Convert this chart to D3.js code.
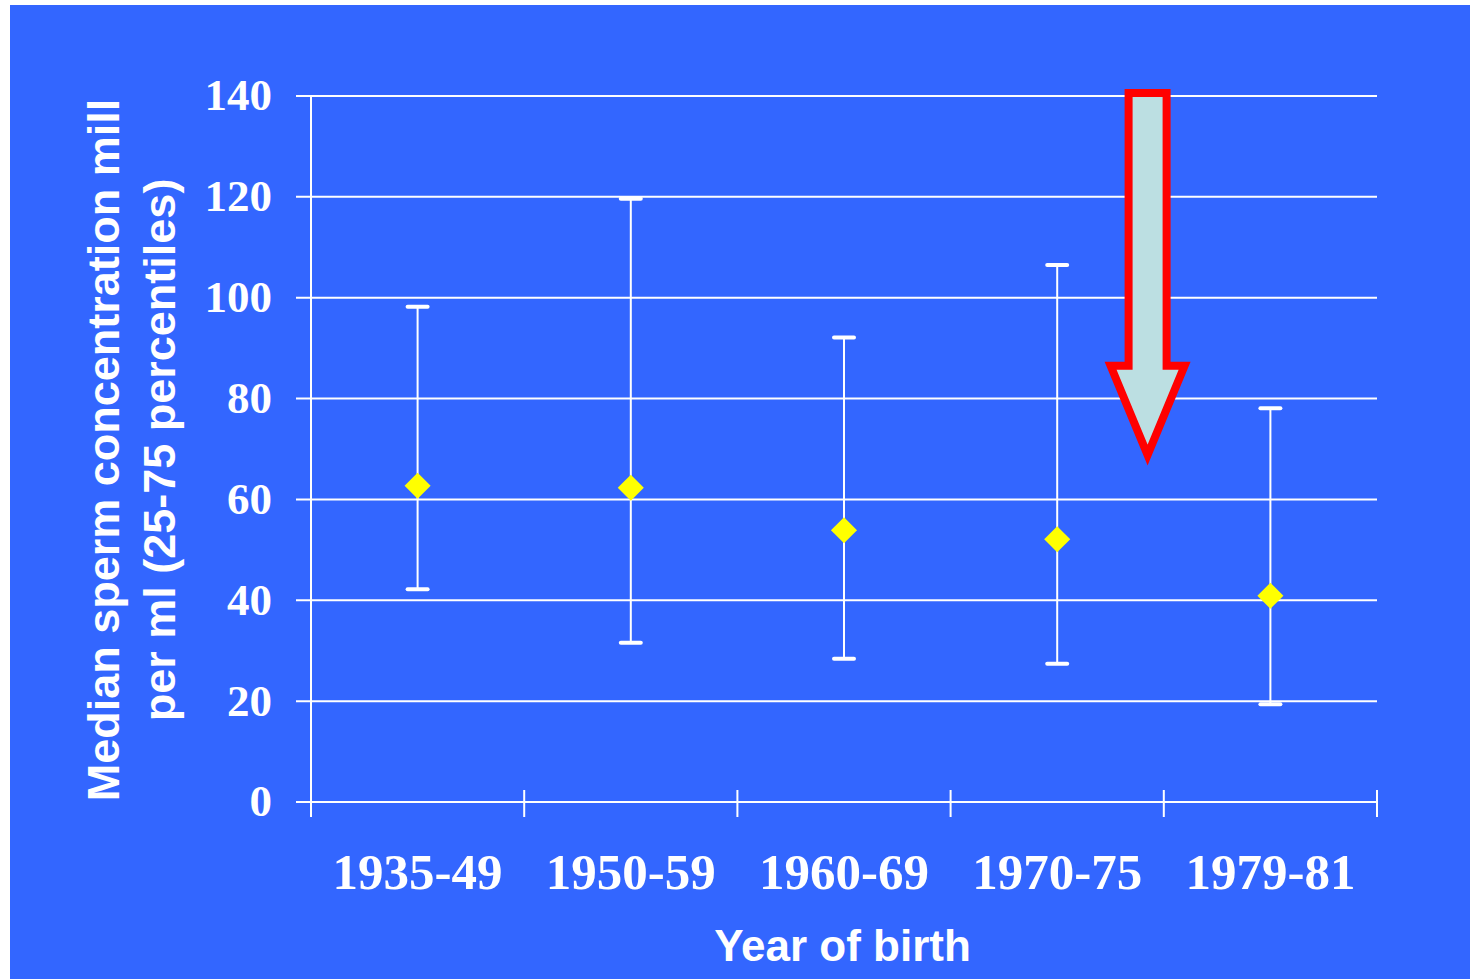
<!DOCTYPE html>
<html>
<head>
<meta charset="utf-8">
<script src="https://cdn.jsdelivr.net/npm/d3@7"></script>
<style>
  html, body { margin: 0; padding: 0; background: #fff; }
  svg { display: block; }
</style>
</head>
<body>
<script>
// data ====================================================================
var categories = ["1935-49", "1950-59", "1960-69", "1970-75", "1979-81"]
var medians = [62.7, 62.3, 53.9, 52.1, 40.9]
var p25 = [42.2, 31.6, 28.4, 27.4, 19.4]
var p75 = [98.2, 119.6, 92.1, 106.5, 78.1]
var yTicks = [0, 20, 40, 60, 80, 100, 120, 140]

var color = {
  bg: "#3366ff",
  line: "#ffffff",
  marker: "#ffff00",
  arrowFill: "#bcdfe2",
  arrowStroke: "#ff0000"
}

var W = 1470, H = 979

var svg = d3.select("body").append("svg")
  .attr("width", W)
  .attr("height", H)

// blue panel
svg.append("rect")
  .attr("x", 10).attr("y", 5)
  .attr("width", W - 10).attr("height", H - 5)
  .attr("fill", color.bg)

var x = d3.scaleBand().domain(categories).range([311, 1377]).padding(0)
var y = d3.scaleLinear().domain([0, 140]).range([802, 96])

// gridlines + y ticks
svg.append("g").selectAll("line")
  .data(yTicks)
  .enter().append("line")
  .attr("x1", 296).attr("x2", 1377)
  .attr("y1", function(d) { return y(d) })
  .attr("y2", function(d) { return y(d) })
  .attr("stroke", color.line)
  .attr("stroke-width", 2)

// y axis line
svg.append("line")
  .attr("x1", 311).attr("x2", 311)
  .attr("y1", y(140)).attr("y2", y(0) + 15)
  .attr("stroke", color.line)
  .attr("stroke-width", 2)

// x ticks at band edges
var edges = categories.map(function(c) { return x(c) }).concat([x.range()[1]])
svg.append("g").selectAll("line")
  .data(edges)
  .enter().append("line")
  .attr("x1", function(d) { return d }).attr("x2", function(d) { return d })
  .attr("y1", y(0) - 12).attr("y2", y(0) + 15)
  .attr("stroke", color.line)
  .attr("stroke-width", 2)

// y tick labels
svg.append("g").selectAll("text")
  .data(yTicks)
  .enter().append("text")
  .attr("x", 272)
  .attr("y", function(d) { return y(d) })
  .attr("dy", "0.32em")
  .attr("text-anchor", "end")
  .attr("font-family", "Liberation Serif, Times New Roman, serif")
  .attr("font-weight", "bold")
  .attr("font-size", "45px")
  .attr("fill", "#fff")
  .text(function(d) { return d })

// x tick labels
svg.append("g").selectAll("text")
  .data(categories)
  .enter().append("text")
  .attr("x", function(d) { return x(d) + x.bandwidth() / 2 })
  .attr("y", 889)
  .attr("text-anchor", "middle")
  .attr("font-family", "Liberation Serif, Times New Roman, serif")
  .attr("font-weight", "bold")
  .attr("font-size", "51px")
  .attr("fill", "#fff")
  .text(function(d) { return d })

// error bars
var rows = categories.map(function(c, i) {
  return { cat: c, med: medians[i], lo: p25[i], hi: p75[i] }
})
var cx = function(d) { return x(d.cat) + x.bandwidth() / 2 }

var bars = svg.append("g")
bars.selectAll(".whisker")
  .data(rows)
  .enter().append("line")
  .attr("x1", cx).attr("x2", cx)
  .attr("y1", function(d) { return y(d.hi) })
  .attr("y2", function(d) { return y(d.lo) })
  .attr("stroke", color.line)
  .attr("stroke-width", 2)

;["hi", "lo"].forEach(function(k) {
  bars.selectAll(".cap-" + k)
    .data(rows)
    .enter().append("line")
    .attr("x1", function(d) { return cx(d) - 10 })
    .attr("x2", function(d) { return cx(d) + 10 })
    .attr("y1", function(d) { return y(d[k]) })
    .attr("y2", function(d) { return y(d[k]) })
    .attr("stroke", color.line)
    .attr("stroke-width", 4)
    .attr("stroke-linecap", "round")
})

// median diamonds
var diamond = d3.symbol().type(d3.symbolSquare).size(340)
svg.append("g").selectAll("path")
  .data(rows)
  .enter().append("path")
  .attr("d", diamond)
  .attr("transform", function(d) { return "translate(" + cx(d) + "," + y(d.med) + ") rotate(45)" })
  .attr("fill", color.marker)

// big down arrow (annotation), sits just left of the 1970-75 / 1979-81 boundary
var arrowCx = x("1970-75") + x.bandwidth() * 0.924
var shaftHalf = 19, headHalf = 37
var aTop = y(140.6), aHead = y(86.5), aTip = y(68.8)
var arrowPts = [
  [arrowCx - shaftHalf, aTop], [arrowCx + shaftHalf, aTop],
  [arrowCx + shaftHalf, aHead], [arrowCx + headHalf, aHead],
  [arrowCx, aTip],
  [arrowCx - headHalf, aHead], [arrowCx - shaftHalf, aHead]
]
svg.append("path")
  .attr("d", d3.line()(arrowPts) + "Z")
  .attr("fill", color.arrowFill)
  .attr("stroke", color.arrowStroke)
  .attr("stroke-width", 8)
  .attr("stroke-linejoin", "miter")
  .attr("stroke-miterlimit", 10)

// axis titles
svg.append("text")
  .attr("transform", "translate(119,450) rotate(-90)")
  .attr("text-anchor", "middle")
  .attr("font-family", "Liberation Sans, Arial, sans-serif")
  .attr("font-weight", "bold")
  .attr("font-size", "45px")
  .attr("fill", "#fff")
  .text("Median sperm concentration mill")

svg.append("text")
  .attr("transform", "translate(175,450) rotate(-90)")
  .attr("text-anchor", "middle")
  .attr("font-family", "Liberation Sans, Arial, sans-serif")
  .attr("font-weight", "bold")
  .attr("font-size", "45px")
  .attr("fill", "#fff")
  .text("per ml (25-75 percentiles)")

svg.append("text")
  .attr("x", 842.5)
  .attr("y", 961)
  .attr("text-anchor", "middle")
  .attr("font-family", "Liberation Sans, Arial, sans-serif")
  .attr("font-weight", "bold")
  .attr("font-size", "44px")
  .attr("fill", "#fff")
  .text("Year of birth")
</script>
</body>
</html>
